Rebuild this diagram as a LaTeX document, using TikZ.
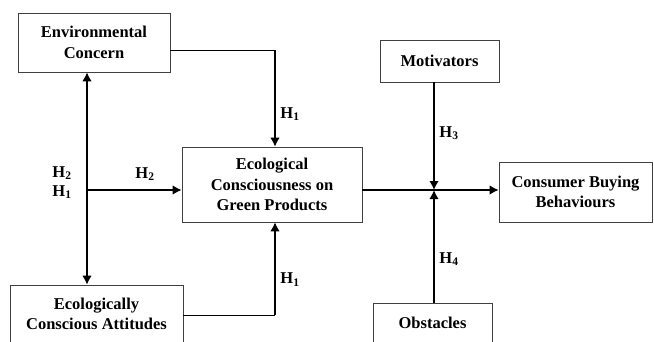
\documentclass[tikz,border=0pt]{standalone}
\usepackage{fontspec}
\setmainfont{Liberation Serif}
\usetikzlibrary{arrows.meta}

\begin{document}
\begin{tikzpicture}[
            x = 1pt, y = -1pt,
            every node/.style={font=\bfseries\fontsize{16.5}{20.5}\selectfont, text depth=0pt},
            box/.style={draw=black!75, line width=.6pt, align=center, inner sep=0pt},
            line/.style={line width=1.5pt},
            thinline/.style={line width=.8pt},
            tip/.style={Latex[length=9pt,width=9.5pt]},
            arr/.style={line, -{Latex[length=9pt,width=9.5pt]}},
            ]

        \useasboundingbox (0,0) rectangle (654,341);

        \node[box, minimum width=152, minimum height=59] (env) at (94,42.5) {Environmental\\Concern};
        \node[box, minimum width=180, minimum height=75] (eco) at (272,184.5) {Ecological\\Consciousness on\\Green Products};
        \node[box, minimum width=173, minimum height=58] (att) at (96.5,314) {Ecologically\\Conscious Attitudes};
        \node[box, minimum width=119, minimum height=42] (mot) at (439.5,61) {Motivators};
        \node[box, minimum width=153, minimum height=60] (cons) at (575.5,192) {Consumer Buying\\Behaviours};
        \node[box, minimum width=119, minimum height=40] (obs) at (432.5,323) {Obstacles};

        \coordinate (e1) at (275,50);
        \coordinate (a1) at (275,315);
        \coordinate (j1) at (87,190);
        \coordinate (m) at (434,190);

        \draw[thinline] (env.east |- e1) -- (e1);
        \draw[arr] (e1) -- (e1 |- eco.north);
        \draw[thinline] (att.east |- a1) -- (a1);
        \draw[arr] (a1) -- (a1 |- eco.south);
        \draw[line, {Latex[length=9pt,width=9.5pt]}-{Latex[length=9pt,width=9.5pt]}] (env.south -| j1) -- (att.north -| j1);
        \draw[arr] (j1) -- (eco.west |- j1);
        \draw[line] (eco.east |- m) -- (m);
        \draw[arr] (m) -- (cons.west |- m);
        \draw[arr] (mot.south -| m) -- (m);
        \draw[arr] (obs.north -| m) -- (m);

        \node (h1a) at (290,113) {H\textsubscript{1}};
        \node (h2a) at (145,173) {H\textsubscript{2}};
        \node (h2b) at (62,172) {H\textsubscript{2}};
        \node (h1b) at (62,191) {H\textsubscript{1}};
        \node (h1c) at (290,278) {H\textsubscript{1}};
        \node (h3) at (449,132) {H\textsubscript{3}};
        \node (h4) at (449,258) {H\textsubscript{4}};
    \end{tikzpicture}
\end{document}
